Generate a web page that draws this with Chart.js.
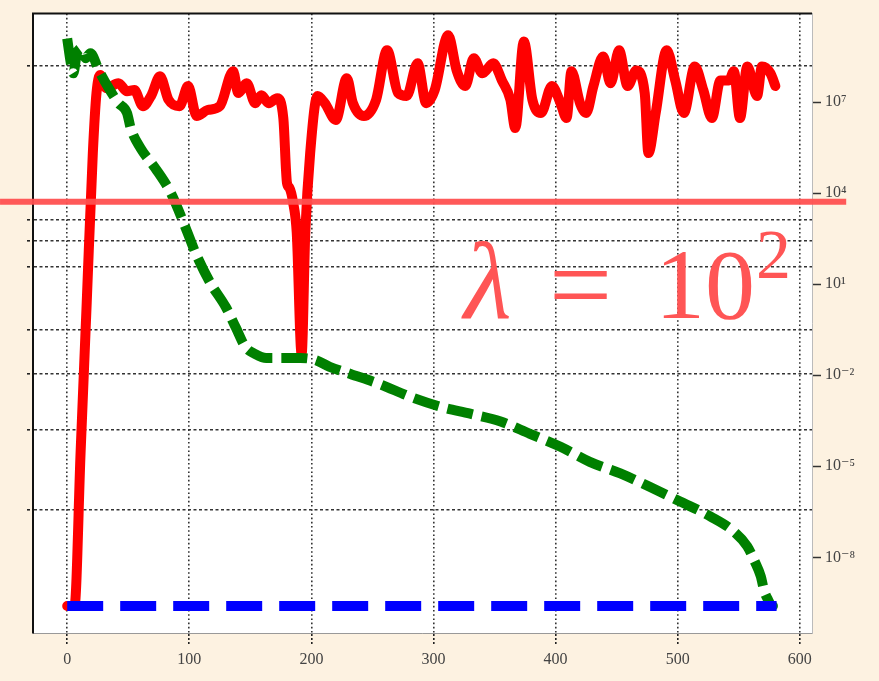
<!DOCTYPE html>
<html><head><meta charset="utf-8">
<script src="https://cdn.jsdelivr.net/npm/chart.js@4/dist/chart.umd.min.js"></script>
<style>html,body{margin:0;padding:0;background:#fdf2e1;}canvas{display:block;}</style>
</head><body>
<canvas id="c" width="879" height="681"></canvas>
<script>
// ---- data ----
const xTickValues = [0, 100, 200, 300, 400, 500, 600];
const yTickValues = [1e7, 1e4, 1e1, 1e-2, 1e-5, 1e-8];
const yTickLabels = ['10⁷', '10⁴', '10¹', '10⁻²', '10⁻⁵', '10⁻⁸'];
const gridLineValues = [1.6e8, 1.35e3, 2.6e2, 38, 0.305, 0.011, 1.6e-4, 3.8e-7];
const xRange = [-28, 610];
const yRange = [3.2e-11, 8.3e9];

const redX = [0,6,11,16,21,24,27,32,42,49,55,62,69,76,83,92,99,106,115,125,136,140,147,154,159,165,172,177,180,182,185,188,192,195,199,205,211,220,229,234,243,253,262,271,278,287,294,301,312,319,326,333,340,349,356,363,367,374,381,388,397,404,409,413,420,425,431,439,445,452,459,466,473,476,482,491,498,505,514,521,528,535,542,546,551,557,565,569,576,580];
const redY = [2.5e-10,2.5e-10,3.0e-5,2.5,2.1e5,2.0e7,7.8e7,2.9e7,4.2e7,2.3e7,2.5e7,7.4e6,1.7e7,7.1e7,1.2e7,7.4e6,3.4e7,3.5e6,5.5e6,7.4e6,1.05e8,2.0e7,4.2e7,9.3e6,1.7e7,9.3e6,1.35e7,3.0e6,2.2e4,1.5e4,5.0e3,5.0e2,5.0e-2,5.0e2,2.1e5,1.6e7,9.3e6,2.6e6,6.2e7,9.3e6,3.5e6,1.2e7,5.1e8,2.0e7,1.6e7,1.9e8,9.3e6,2.5e7,1.6e9,1.1e8,3.4e7,2.8e8,8.9e7,1.9e8,5.2e7,1.2e7,1.4e6,1.0e9,1.2e7,4.4e6,3.4e7,9.3e6,3.0e6,1.05e8,9.3e6,4.4e6,3.4e7,3.2e8,4.2e7,5.1e8,3.4e7,1.1e8,2.0e7,2.1e5,4.4e6,5.1e8,5.2e7,4.4e6,1.5e8,2.5e7,3.0e6,5.2e7,5.2e7,1.05e8,3.0e6,1.5e8,1.6e7,1.5e8,8.9e7,3.4e7];

const greenX = [0,3,5,8,12,15,19,26,34,42,49,52,60,72,85,97,105,117,130,138,146,154,163,191,203,215,232,256,281,306,330,355,379,404,428,453,477,502,527,546,557,563,568,571,574,577,578,576];
const greenY = [1.26e9,1.9e8,8.9e7,4.1e8,5.9e8,2.8e8,4.1e8,1.1e8,2.9e7,9.3e6,4.4e6,1.4e6,3.1e5,6.8e4,1.0e4,7.2e2,1.1e2,11.5,1.74,0.38,0.085,0.050,0.037,0.037,0.032,0.019,0.011,5.1e-3,1.95e-3,9.1e-4,5.4e-4,3.0e-4,1.17e-4,4.4e-5,1.4e-5,5.8e-6,2.1e-6,6.9e-7,2.2e-7,7.1e-8,2.3e-8,7.4e-9,2.4e-9,7.5e-10,4.0e-10,2.5e-10,2.5e-10,2.5e-10];

const blueX = [0, 581];
const blueY = [2.5e-10, 2.5e-10];

const markLineX = [-55, 638];
const markLineY = [5.2e3, 5.2e3];

const zip = (xs, ys) => xs.map((x, i) => ({x, y: ys[i]}));

const CREAM = '#fdf2e1';
const serif = '"Liberation Serif", "DejaVu Serif", serif';

const bgPlugin = {
  id: 'bg',
  beforeDraw(chart) {
    const {ctx, chartArea: a} = chart;
    ctx.save();
    ctx.fillStyle = CREAM;
    ctx.fillRect(0, 0, chart.width, chart.height);
    ctx.fillStyle = '#ffffff';
    ctx.fillRect(a.left, a.top, a.right - a.left, a.bottom - a.top);
    ctx.restore();
  },
  afterDatasetsDraw(chart) {
    const {ctx, chartArea: a} = chart;
    ctx.save();
    ctx.setLineDash([]);
    ctx.strokeStyle = '#111';
    ctx.lineWidth = 2;
    ctx.beginPath();
    ctx.moveTo(a.left - 1, a.top);
    ctx.lineTo(a.right, a.top);
    ctx.stroke();
    ctx.restore();
  },
  afterDraw(chart) {
    const {ctx} = chart;
    ctx.save();
    ctx.fillStyle = '#ff5555';
    ctx.textBaseline = 'alphabetic';
    ctx.font = 'italic 110px ' + serif;
    ctx.fillText('λ', 464, 318);
    ctx.font = '112px ' + serif;
    ctx.fillText('=', 549, 322);
    ctx.font = '100px ' + serif;
    ctx.fillText('10', 655, 318);
    ctx.font = '70px ' + serif;
    ctx.fillText('2', 756, 278);
    ctx.restore();
  }
};

new Chart(document.getElementById('c'), {
  type: 'line',
  data: {
    datasets: [
      { data: zip(markLineX, markLineY), borderColor: 'rgba(255,80,80,0.95)', borderWidth: 6, pointRadius: 0, clip: false, order: -1, tension: 0 },
      { data: zip(blueX, blueY), borderColor: '#0000ff', borderWidth: 10, borderDash: [36, 17], borderCapStyle: 'butt', pointRadius: 0, order: 0, yAxisID: 'y' },
      { data: zip(greenX, greenY), borderColor: '#008000', borderWidth: 10, borderDash: [26, 9], borderCapStyle: 'butt', borderJoinStyle: 'round', pointRadius: 0, order: 1, yAxisID: 'y', cubicInterpolationMode: 'monotone' },
      { data: zip(redX, redY), borderColor: '#ff0000', borderWidth: 10, borderCapStyle: 'round', borderJoinStyle: 'round', pointRadius: 0, order: 2, yAxisID: 'y', cubicInterpolationMode: 'monotone' }
    ]
  },
  options: {
    responsive: false,
    animation: false,
    devicePixelRatio: 1,
    layout: { padding: { top: 10, left: 0, right: 0, bottom: 0 } },
    plugins: { legend: { display: false }, tooltip: { enabled: false } },
    scales: {
      x: {
        type: 'linear', position: 'bottom', min: xRange[0], max: xRange[1],
        afterBuildTicks: s => { s.ticks = xTickValues.map(v => ({value: v})); },
        afterFit: s => { s.height = 48; },
        ticks: { font: { family: serif, size: 16 }, color: '#444', padding: 5, maxRotation: 0 },
        grid: { color: '#333', lineWidth: 1.6, tickLength: 12, tickBorderDash: [2, 2], tickColor: '#222', tickWidth: 1.6 },
        border: { color: '#999', width: 1, dash: [1.6, 2.6] }
      },
      yl: {
        type: 'logarithmic', position: 'left', min: yRange[0], max: yRange[1],
        afterBuildTicks: s => { s.ticks = gridLineValues.map(v => ({value: v})); },
        afterFit: s => { s.width = 33; },
        ticks: { display: false },
        grid: { color: '#333', lineWidth: 1.6, tickLength: 6, tickBorderDash: [3, 2], tickColor: '#222' },
        border: { color: '#111', width: 2, dash: [3, 2.5] }
      },
      y: {
        type: 'logarithmic', position: 'right', min: yRange[0], max: yRange[1],
        afterBuildTicks: s => { s.ticks = yTickValues.map(v => ({value: v})); },
        afterFit: s => { s.width = 67; },
        ticks: { font: { family: serif, size: 16 }, color: '#444', padding: 4,
          callback: (v) => { const i = yTickValues.indexOf(v); return i >= 0 ? yTickLabels[i] : ''; } },
        grid: { drawOnChartArea: false, tickLength: 9, tickColor: '#333', tickWidth: 1.5 },
        border: { color: '#bbb', width: 1 }
      }
    }
  },
  plugins: [bgPlugin]
});
</script>
</body></html>
